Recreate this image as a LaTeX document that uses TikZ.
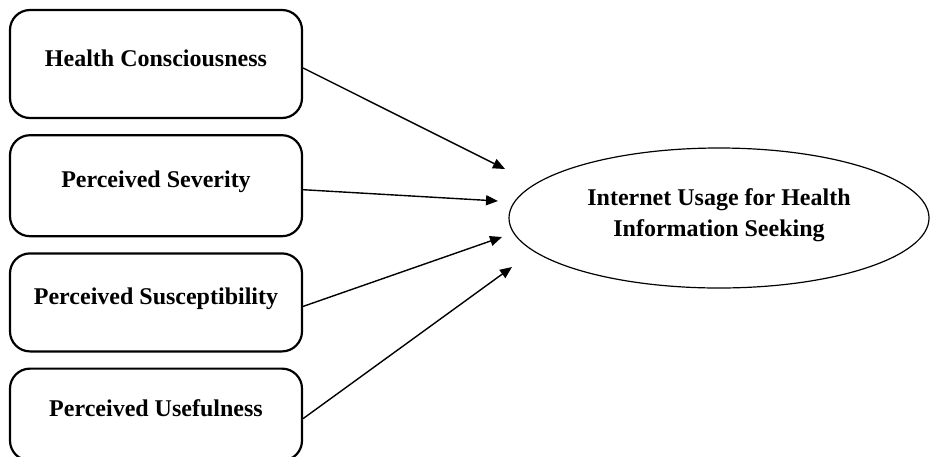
\documentclass[tikz,border=0pt]{standalone}
\usepackage{fontspec}
\setmainfont{Liberation Serif}
\usetikzlibrary{positioning,shapes.geometric,arrows.meta}

\begin{document}
\begin{tikzpicture}[
  x=0.5pt, y=-0.5pt,
  node distance=7.5pt,
  box/.style={draw, line width=1.1pt, rounded corners=10pt, align=center, minimum width=146pt, text height=8pt, text depth=6pt, font=\fontsize{12}{14.4}\selectfont\bfseries},
  outcome/.style={ellipse, draw, line width=0.6pt, inner sep=0pt, minimum width=210pt, minimum height=70pt, align=center, text height=21pt, text depth=3pt, font=\fontsize{12}{15.5}\selectfont\bfseries},
  arrow/.style={-{Triangle[length=6pt,width=5pt]}, line width=0.7pt}
]
\useasboundingbox (0,0) rectangle (930,456);
\node[box, minimum height=54pt] (hc) at (156,64) {Health Consciousness};
\node[box, minimum height=50.5pt, below=of hc] (sev) {Perceived Severity};
\node[box, minimum height=49pt, below=of sev] (sus) {Perceived Susceptibility};
\node[box, minimum height=46pt, below=of sus] (use) {Perceived Usefulness};
\node[outcome] (iu) at (719,218) {Internet Usage for Health\\Information Seeking};
% arrow tips stop short of the ellipse
\coordinate (t1) at (505,169);
\coordinate (t2) at (498,201);
\coordinate (t3) at (502,237);
\coordinate (t4) at (512,267);
\draw[arrow] ([yshift=-2pt]hc.east) -- (t1);
\draw[arrow] ([yshift=-2pt]sev.east) -- (t2);
\draw[arrow] ([yshift=-2pt]sus.east) -- (t3);
\draw[arrow] ([yshift=-2pt]use.east) -- (t4);
\end{tikzpicture}
\end{document}
